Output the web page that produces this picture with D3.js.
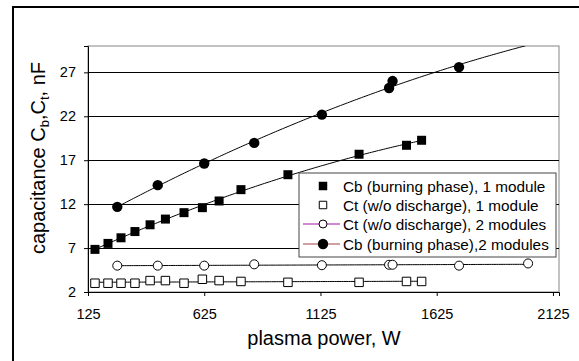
<!DOCTYPE html>
<html>
<head>
<meta charset="utf-8">
<script src="https://cdn.jsdelivr.net/npm/d3@7"></script>
<style>
  body { margin: 0; background: #fff; }
  text { font-family: Arial, "Liberation Sans", sans-serif; fill: #000; }
</style>
</head>
<body>
<div id="chart"></div>
<script>
// --------------------------------------
//  Data
// --------------------------------------

const powerOne = [155, 211, 267, 327, 392, 458, 538, 617, 689, 783, 985, 1291, 1495, 1560];
const cbOne = [6.85, 7.53, 8.17, 8.88, 9.65, 10.3, 11.03, 11.6, 12.36, 13.65, 15.35, 17.68, 18.7, 19.27];
const ctOne = [3.0, 3.0, 3.0, 3.0, 3.3, 3.3, 3.0, 3.45, 3.3, 3.2, 3.1, 3.1, 3.2, 3.2];

const powerTwoCb = [251, 425, 625, 840, 1131, 1420, 1435, 1721];
const cbTwo = [11.69, 14.16, 16.63, 18.97, 22.19, 25.22, 26.01, 27.6];

const powerTwoCt = [251, 425, 625, 840, 1131, 1420, 1435, 1721, 2018];
const ctTwo = [5.0, 5.0, 5.0, 5.15, 5.05, 5.1, 5.1, 5.0, 5.25];

const xTicks = [125, 625, 1125, 1625, 2125];
const yTicks = [2, 7, 12, 17, 22, 27];

const legendLabels = [
  "Cb (burning phase), 1 module",
  "Ct (w/o discharge), 1 module",
  "Ct (w/o discharge), 2 modules",
  "Cb (burning phase),2 modules"
];

// --------------------------------------
//  Canvas
// --------------------------------------

const width = 579, height = 361;
const margin = {left: 88, top: 46, right: 20, bottom: 69};
const innerwidth = width - margin.left - margin.right;
const innerheight = height - margin.top - margin.bottom;

const svg = d3.select("#chart")
  .append("svg")
    .attr("width", width)
    .attr("height", height);

// outer frame (runs off the right and bottom edges)
svg.append("rect")
  .attr("x", 13).attr("y", 7)
  .attr("width", 600).attr("height", 400)
  .attr("fill", "none")
  .attr("stroke", "#000")
  .attr("stroke-width", 2);

const inner = svg.append("g")
  .attr("transform", `translate(${margin.left}, ${margin.top})`);

inner.append("defs").append("clipPath")
  .attr("id", "plotClip")
  .append("rect")
    .attr("width", innerwidth)
    .attr("height", innerheight);

// --------------------------------------
//  Scales
// --------------------------------------

const x = d3.scaleLinear().domain([125, 2151]).range([0, innerwidth]);
const y = d3.scaleLinear().domain([2, 30]).range([innerheight, 0]);

// --------------------------------------
//  Grid and frame
// --------------------------------------

inner.append("rect")
  .attr("width", innerwidth).attr("height", innerheight)
  .attr("fill", "none")
  .attr("stroke", "#9a9a9a")
  .attr("stroke-width", 1.2);

inner.selectAll(".grid")
  .data(yTicks.filter(d => d > 2))
  .join("line")
    .attr("x1", 0).attr("x2", innerwidth)
    .attr("y1", d => Math.round(y(d)) + 0.5)
    .attr("y2", d => Math.round(y(d)) + 0.5)
    .attr("stroke", "#000");

// --------------------------------------
//  Axes
// --------------------------------------

const xAxis = inner.append("g")
  .attr("transform", `translate(0, ${innerheight})`)
  .call(d3.axisBottom(x).tickValues(xTicks).tickFormat(d3.format("d")).tickSize(4).tickPadding(13));

const yAxis = inner.append("g")
  .call(d3.axisLeft(y).tickValues(yTicks).tickSize(4).tickPadding(8));

[xAxis, yAxis].forEach(g => {
  g.select(".domain").attr("stroke", "#000");
  g.selectAll(".tick line").attr("stroke", "#000");
  g.selectAll("text").attr("font-size", "14.5px").attr("fill", "#000");
});

svg.append("text")
  .attr("x", 324).attr("y", 345)
  .attr("text-anchor", "middle")
  .attr("font-size", "20px")
  .text("plasma power, W");

const yTitle = svg.append("text")
  .attr("transform", "translate(45, 158) rotate(-90)")
  .attr("text-anchor", "middle")
  .attr("font-size", "20px");
yTitle.append("tspan").text("capacitance C");
yTitle.append("tspan").attr("font-size", "13px").attr("dy", 4).text("b");
yTitle.append("tspan").attr("dy", -4).text(",C");
yTitle.append("tspan").attr("font-size", "13px").attr("dy", 4).text("t");
yTitle.append("tspan").attr("dy", -4).text(", nF");

// --------------------------------------
//  Trendlines (least-squares fits of the data)
// --------------------------------------

function polyFit(xs, ys, order) {
  const n = order + 1;
  const A = Array.from({length: n}, () => new Array(n + 1).fill(0));
  xs.forEach((xv, k) => {
    for (let i = 0; i < n; i++) {
      for (let j = 0; j < n; j++) A[i][j] += Math.pow(xv, i + j);
      A[i][n] += ys[k] * Math.pow(xv, i);
    }
  });
  for (let i = 0; i < n; i++) {
    for (let r = i + 1; r < n; r++) {
      const f = A[r][i] / A[i][i];
      for (let c = i; c <= n; c++) A[r][c] -= f * A[i][c];
    }
  }
  const coef = new Array(n).fill(0);
  for (let i = n - 1; i >= 0; i--) {
    let s = A[i][n];
    for (let j = i + 1; j < n; j++) s -= A[i][j] * coef[j];
    coef[i] = s / A[i][i];
  }
  return v => coef.reduce((acc, c, i) => acc + c * Math.pow(v, i), 0);
}

const trendLine = d3.line().x(d => x(d[0])).y(d => y(d[1]));

function drawTrend(xs, ys, order, xEnd) {
  const f = polyFit(xs, ys, order);
  const pts = d3.range(xs[0], xEnd, 10).concat([xEnd]).map(v => [v, f(v)]);
  inner.append("path")
    .datum(pts)
    .attr("clip-path", "url(#plotClip)")
    .attr("fill", "none")
    .attr("stroke", "#000")
    .attr("stroke-width", 1)
    .attr("d", trendLine);
}

drawTrend(powerOne, cbOne, 2, d3.max(powerOne));
drawTrend(powerOne, ctOne, 1, d3.max(powerOne));
drawTrend(powerTwoCt, ctTwo, 1, d3.max(powerTwoCt));
drawTrend(powerTwoCb, cbTwo, 2, 2151);

// --------------------------------------
//  Markers
// --------------------------------------

const sq = d3.symbol().type(d3.symbolSquare);
const circ = d3.symbol().type(d3.symbolCircle);

inner.selectAll(".ctOne")
  .data(powerOne.map((p, i) => [p, ctOne[i]]))
  .join("path")
    .attr("transform", d => `translate(${x(d[0])}, ${y(d[1])})`)
    .attr("d", sq.size(72))
    .attr("fill", "#fff").attr("stroke", "#000");

inner.selectAll(".ctTwo")
  .data(powerTwoCt.map((p, i) => [p, ctTwo[i]]))
  .join("path")
    .attr("transform", d => `translate(${x(d[0])}, ${y(d[1])})`)
    .attr("d", circ.size(64))
    .attr("fill", "#fff").attr("stroke", "#000");

inner.selectAll(".cbOne")
  .data(powerOne.map((p, i) => [p, cbOne[i]]))
  .join("path")
    .attr("transform", d => `translate(${x(d[0])}, ${y(d[1])})`)
    .attr("d", sq.size(81))
    .attr("fill", "#000");

inner.selectAll(".cbTwo")
  .data(powerTwoCb.map((p, i) => [p, cbTwo[i]]))
  .join("path")
    .attr("transform", d => `translate(${x(d[0])}, ${y(d[1])})`)
    .attr("d", circ.size(85))
    .attr("fill", "#000");

// --------------------------------------
//  Legend
// --------------------------------------

const legend = svg.append("g").attr("transform", "translate(299, 173)");

legend.append("rect")
  .attr("width", 257).attr("height", 84)
  .attr("fill", "#fff")
  .attr("stroke", "#444");

const rowY = [13, 32, 51, 71];
const legendLine = ["none", "none", "#c060c0", "#c08080"];

legend.selectAll(".lline")
  .data(legendLine)
  .join("line")
    .attr("x1", 4).attr("x2", 41)
    .attr("y1", (d, i) => rowY[i]).attr("y2", (d, i) => rowY[i])
    .attr("stroke", d => d)
    .attr("stroke-width", 1.5);

const legendSymbol = [
  {d: sq.size(72)(), fill: "#000", stroke: "none"},
  {d: sq.size(56)(), fill: "#fff", stroke: "#000"},
  {d: circ.size(50)(), fill: "#fff", stroke: "#000"},
  {d: circ.size(85)(), fill: "#000", stroke: "none"}
];

legend.selectAll(".lsym")
  .data(legendSymbol)
  .join("path")
    .attr("transform", (d, i) => `translate(24, ${rowY[i]})`)
    .attr("d", d => d.d)
    .attr("fill", d => d.fill)
    .attr("stroke", d => d.stroke);

legend.selectAll(".ltext")
  .data(legendLabels)
  .join("text")
    .attr("x", 44)
    .attr("y", (d, i) => rowY[i])
    .attr("dy", "0.36em")
    .attr("font-size", "15.3px")
    .text(d => d);
</script>
</body>
</html>
